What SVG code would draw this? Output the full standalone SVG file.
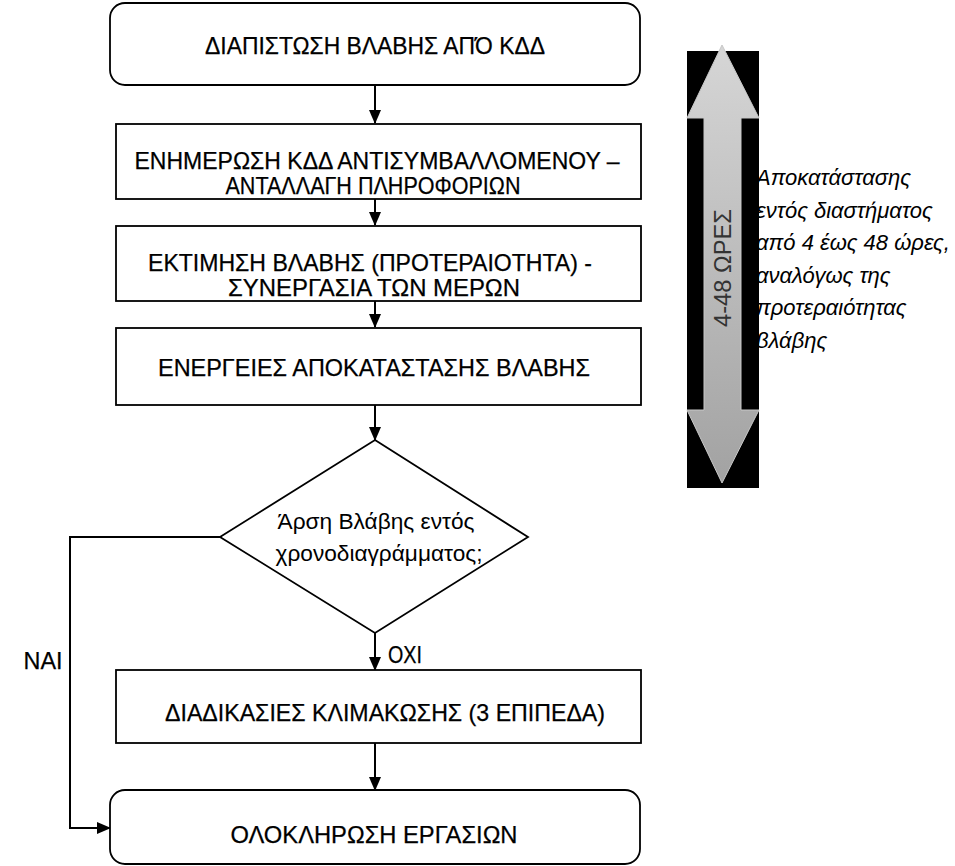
<svg xmlns="http://www.w3.org/2000/svg" width="955" height="866" viewBox="0 0 955 866">
<style>
.box{fill:#fff;stroke:#000;stroke-width:1.8}
.t{font-family:"Liberation Sans Narrow","Liberation Sans",Arial,sans-serif;font-size:24px;fill:#000;stroke:#000;stroke-width:0.25;text-anchor:middle}
.d{font-family:"Liberation Sans",Arial,sans-serif;font-size:22px;fill:#000;text-anchor:middle}
.c{fill:none;stroke:#000;stroke-width:2}
.side{font-family:"Liberation Sans",Arial,sans-serif;font-size:22px;font-style:italic;fill:#000}
</style>
<defs>
<marker id="ah" markerWidth="14" markerHeight="14" refX="13" refY="7" orient="auto" markerUnits="userSpaceOnUse">
<path d="M0,1 L14,7 L0,13 Z" fill="#000"/>
</marker>
<linearGradient id="g" x1="0" y1="0" x2="0" y2="1">
<stop offset="0" stop-color="#d6d6d6"/>
<stop offset="1" stop-color="#a2a2a2"/>
</linearGradient>
</defs>
<g id="side-text">
<text class="side" x="756" y="185">Αποκατάστασης</text>
<text class="side" x="756" y="217.5">εντός διαστήματος</text>
<text class="side" x="756" y="250">από 4 έως 48 ώρες,</text>
<text class="side" x="756" y="282.5">αναλόγως της</text>
<text class="side" x="756" y="315">προτεραιότητας</text>
<text class="side" x="756" y="347.5">βλάβης</text>
</g>
<g id="duration">
<rect x="687" y="51" width="72" height="437" fill="#000"/>
<path d="M722,45 L759,118 L741,118 L741,410 L759,410 L722,483 L687,410 L704,410 L704,118 L687,118 Z" fill="url(#g)" stroke="#c8c8c8" stroke-width="1"/>
<text transform="translate(731,268) rotate(-90)" font-family="'Liberation Sans',Arial,sans-serif" font-size="23" fill="#333" text-anchor="middle" textLength="118" lengthAdjust="spacingAndGlyphs">4-48 ΩΡΕΣ</text>
</g>
<g id="connectors">
<line class="c" x1="375" y1="85" x2="375" y2="123" marker-end="url(#ah)"/>
<line class="c" x1="375" y1="199" x2="375" y2="225" marker-end="url(#ah)"/>
<line class="c" x1="375" y1="301" x2="375" y2="327" marker-end="url(#ah)"/>
<line class="c" x1="375" y1="405" x2="375" y2="440" marker-end="url(#ah)"/>
<line class="c" x1="375" y1="633" x2="375" y2="670" marker-end="url(#ah)"/>
<line class="c" x1="375" y1="743" x2="375" y2="790" marker-end="url(#ah)"/>
<polyline class="c" points="220,537 70,537 70,828 110,828" marker-end="url(#ah)"/>
<text class="t" x="405" y="663" textLength="34" lengthAdjust="spacingAndGlyphs">ΟΧΙ</text>
<text class="t" x="43" y="669" textLength="39" lengthAdjust="spacingAndGlyphs">ΝΑΙ</text>
</g>
<g id="n1">
<rect class="box" x="110" y="3" width="530" height="82" rx="15"/>
<text class="t" x="375" y="54" textLength="340" lengthAdjust="spacingAndGlyphs">ΔΙΑΠΙΣΤΩΣΗ ΒΛΑΒΗΣ ΑΠΌ ΚΔΔ</text>
</g>
<g id="n2">
<rect class="box" x="116" y="124" width="525" height="75"/>
<text class="t" x="377" y="169" textLength="485" lengthAdjust="spacingAndGlyphs">ΕΝΗΜΕΡΩΣΗ ΚΔΔ ΑΝΤΙΣΥΜΒΑΛΛΟΜΕΝΟΥ –</text>
<text class="t" x="373" y="194" textLength="295" lengthAdjust="spacingAndGlyphs">ΑΝΤΑΛΛΑΓΗ ΠΛΗΡΟΦΟΡΙΩΝ</text>
</g>
<g id="n3">
<rect class="box" x="116" y="226" width="525" height="75"/>
<text class="t" x="370" y="271" textLength="444" lengthAdjust="spacingAndGlyphs">ΕΚΤΙΜΗΣΗ ΒΛΑΒΗΣ (ΠΡΟΤΕΡΑΙΟΤΗΤΑ) -</text>
<text class="t" x="374" y="296" textLength="292" lengthAdjust="spacingAndGlyphs">ΣΥΝΕΡΓΑΣΙΑ ΤΩΝ ΜΕΡΩΝ</text>
</g>
<g id="n4">
<rect class="box" x="116" y="328" width="525" height="77"/>
<text class="t" x="374" y="376" textLength="432" lengthAdjust="spacingAndGlyphs">ΕΝΕΡΓΕΙΕΣ ΑΠΟΚΑΤΑΣΤΑΣΗΣ ΒΛΑΒΗΣ</text>
</g>
<g id="n5">
<polygon class="box" points="375,440 528,537 375,633 220,537"/>
<text class="d" x="376" y="529" textLength="197" lengthAdjust="spacingAndGlyphs">Άρση Βλάβης εντός</text>
<text class="d" x="379" y="561" textLength="207" lengthAdjust="spacingAndGlyphs">χρονοδιαγράμματος;</text>
</g>
<g id="n6">
<rect class="box" x="116" y="670" width="525" height="73"/>
<text class="t" x="385" y="721" textLength="440" lengthAdjust="spacingAndGlyphs">ΔΙΑΔΙΚΑΣΙΕΣ ΚΛΙΜΑΚΩΣΗΣ (3 ΕΠΙΠΕΔΑ)</text>
</g>
<g id="n7">
<rect class="box" x="110" y="790" width="530" height="74" rx="15"/>
<text class="t" x="374" y="843" textLength="287" lengthAdjust="spacingAndGlyphs">ΟΛΟΚΛΗΡΩΣΗ ΕΡΓΑΣΙΩΝ</text>
</g>
</svg>
